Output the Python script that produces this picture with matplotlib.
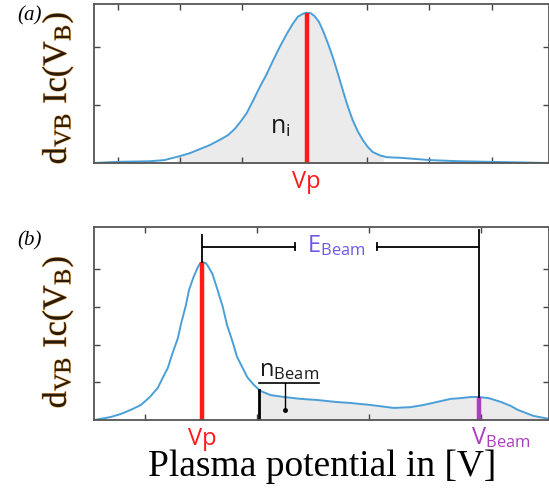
import numpy as np
import matplotlib
matplotlib.use("Agg")
import matplotlib.pyplot as plt
import matplotlib.patheffects as pe

# ---- data (x and y in tick units) ----
# panel (a): ion distribution
xa = [0.62, 1.00, 1.51, 1.75, 2.00, 2.16, 2.32, 2.48, 2.64, 2.77, 2.88, 2.97,
      3.07, 3.17, 3.28, 3.39, 3.49, 3.60, 3.71, 3.81, 3.89, 3.97, 4.03, 4.10,
      4.16, 4.23, 4.29, 4.37, 4.45, 4.53, 4.61, 4.69, 4.77, 4.85, 4.93, 5.01,
      5.09, 5.21, 5.32, 5.53, 6.01, 6.49, 6.97, 7.45, 7.90]
ya = [0.00, 0.02, 0.03, 0.05, 0.12, 0.17, 0.24, 0.31, 0.40, 0.48, 0.59, 0.71,
      0.86, 1.07, 1.31, 1.53, 1.76, 2.00, 2.22, 2.40, 2.52, 2.57, 2.59, 2.58,
      2.53, 2.43, 2.29, 2.07, 1.83, 1.55, 1.26, 0.98, 0.74, 0.55, 0.40, 0.28,
      0.19, 0.13, 0.10, 0.09, 0.05, 0.03, 0.02, 0.01, 0.00]
vp_a = 4.03
fill_a = (1.95, 5.26)

# panel (b): ion + beam distribution
xb = [0.54, 0.60, 0.69, 0.78, 0.87, 0.96, 1.04, 1.11, 1.15, 1.20, 1.24, 1.29,
      1.32, 1.36, 1.39, 1.43, 1.47, 1.49, 1.51, 1.54, 1.56, 1.60, 1.64, 1.69,
      1.73, 1.78, 1.82, 1.87, 1.91, 1.97, 2.03, 2.12, 2.24, 2.39, 2.54, 2.70,
      2.84, 3.01, 3.22, 3.37, 3.49, 3.61, 3.73, 3.82, 3.91, 3.98, 4.07, 4.18,
      4.27, 4.33, 4.40, 4.47, 4.61]
yb = [0.00, 0.03, 0.08, 0.16, 0.27, 0.40, 0.61, 0.85, 1.09, 1.38, 1.75, 2.17,
      2.57, 3.02, 3.45, 3.79, 4.06, 4.16, 4.19, 4.16, 4.08, 3.87, 3.50, 3.02,
      2.52, 2.07, 1.67, 1.38, 1.14, 0.93, 0.77, 0.66, 0.61, 0.56, 0.53, 0.48,
      0.45, 0.40, 0.32, 0.34, 0.40, 0.48, 0.56, 0.58, 0.61, 0.61, 0.58, 0.48,
      0.37, 0.27, 0.19, 0.11, 0.03]
vp_b = 1.51
nbeam_start = 2.02
vbeam = 3.98

blue = "#4a9fd8"
gray = "#ebebeb"
red = "#ff1a1a"
magenta = "#a93fbf"
violet = "#6a5ae8"
label_col = "#2a1a08"

plt.rcParams["mathtext.fontset"] = "stix"

fig = plt.figure(figsize=(5.49, 4.98), dpi=100)
ax1 = fig.add_axes([94 / 549, 1 - 163 / 498, 455 / 549, 159 / 498])
ax2 = fig.add_axes([94 / 549, 1 - 420 / 498, 455 / 549, 193 / 498])

for ax in (ax1, ax2):
    for s in ax.spines.values():
        s.set_color("#555555")
        s.set_linewidth(1.3)
    ax.tick_params(direction="in", length=4, width=1, color="#444444",
                   top=True, right=True, labelbottom=False, labelleft=False)

# ---- panel (a) ----
ax1.set_xlim(0.62, 7.92)
ax1.set_ylim(0, 2.74)
ax1.set_xticks([1, 2, 3, 5, 6, 7])
ax1.set_yticks([1, 2])
xa_arr = np.array(xa)
ya_arr = np.array(ya)
m = (xa_arr >= fill_a[0]) & (xa_arr <= fill_a[1])
ax1.fill_between(np.r_[fill_a[0], xa_arr[m], fill_a[1]],
                 np.r_[np.interp(fill_a[0], xa, ya), ya_arr[m], np.interp(fill_a[1], xa, ya)],
                 color=gray, lw=0)
ax1.plot(xa, ya, color=blue, lw=1.4)
ax1.plot([vp_a, vp_a], [0, max(ya)], color=red, lw=3.2, solid_capstyle="butt")
ax1.text(vp_a - 0.42, 0.62, r"n$_\mathregular{i}$", fontsize=18, family="Open Sans",
         color="#1a1a1a", ha="center", va="center")
ax1.text(vp_a, -0.12, "Vp", fontsize=17, family="Open Sans", color=red,
         ha="center", va="top", clip_on=False)

# ---- panel (b) ----
ax2.set_xlim(0.54, 4.61)
ax2.set_ylim(0, 5.12)
ax2.set_xticks([1, 2, 3, 4])
ax2.set_yticks([1, 2, 3, 4])
xb_arr = np.array(xb)
yb_arr = np.array(yb)
m = xb_arr >= nbeam_start
ax2.fill_between(np.r_[nbeam_start, xb_arr[m]],
                 np.r_[np.interp(nbeam_start, xb, yb), yb_arr[m]],
                 color=gray, lw=0)
ax2.plot(xb, yb, color=blue, lw=1.4)
ax2.plot([vp_b, vp_b], [0, max(yb)], color=red, lw=3.2, solid_capstyle="butt")
ax2.plot([nbeam_start, nbeam_start], [0, np.interp(nbeam_start, xb, yb)],
         color="black", lw=2)
yv = np.interp(vbeam, xb, yb)
ax2.plot([vbeam, vbeam], [0, yv], color=magenta, lw=3.2, solid_capstyle="butt")

# E_beam bracket
yr = 4.6
ax2.plot([vp_b, vp_b], [max(yb), 4.9], color="black", lw=1.3)
ax2.plot([vbeam, vbeam], [yv, 5.05], color="black", lw=1.3)
ax2.plot([vp_b, 2.34], [yr, yr], color="black", lw=1.3)
ax2.plot([3.07, vbeam], [yr, yr], color="black", lw=1.3)
ax2.plot([2.34, 2.34], [yr - 0.1, yr + 0.1], color="black", lw=1.3)
ax2.plot([3.07, 3.07], [yr - 0.1, yr + 0.1], color="black", lw=1.3)
ax2.text(2.705, yr, r"E$_\mathregular{Beam}$", fontsize=17, family="Open Sans",
         color=violet, ha="center", va="center")

# n_beam label
ax2.text(2.02, 1.0, r"n$_\mathregular{Beam}$", fontsize=17, family="Open Sans",
         color="#1a1a1a", ha="left", va="bottom")
ax2.plot([2.02, 2.55], [0.98, 0.98], color="black", lw=1.2)
ax2.plot([2.25, 2.25], [0.98, 0.27], color="black", lw=1)
ax2.plot([2.25], [0.27], marker="o", ms=2.5, color="black")

ax2.text(vp_b, -0.18, "Vp", fontsize=17, family="Open Sans", color=red,
         ha="center", va="top", clip_on=False)
ax2.text(vbeam + 0.2, -0.18, r"V$_\mathregular{Beam}$", fontsize=17,
         family="Open Sans", color=magenta, ha="center", va="top", clip_on=False)

# ---- labels ----
ylab = r"d$_\mathregular{VB}$ Ic(V$_\mathregular{B}$)"
glow = [pe.withStroke(linewidth=0.9, foreground="#eaa550", alpha=0.8)]
fig.text(58 / 549, 1 - 88 / 498, ylab, rotation=90, fontsize=24.5,
         family="Liberation Serif", color=label_col, ha="center", va="center",
         path_effects=glow)
fig.text(58 / 549, 1 - 332 / 498, ylab, rotation=90, fontsize=24.5,
         family="Liberation Serif", color=label_col, ha="center", va="center",
         path_effects=glow)

fig.text(30 / 549, 1 - 16 / 498, "(a)", fontsize=15, family="Liberation Serif",
         style="italic", ha="center", va="center")
fig.text(30 / 549, 1 - 241 / 498, "(b)", fontsize=15, family="Liberation Serif",
         style="italic", ha="center", va="center")

fig.text(322 / 549, 1 - 467 / 498, "Plasma potential in [V]", fontsize=27,
         family="Liberation Serif", ha="center", va="center")

fig.savefig("out.png", dpi=100)
